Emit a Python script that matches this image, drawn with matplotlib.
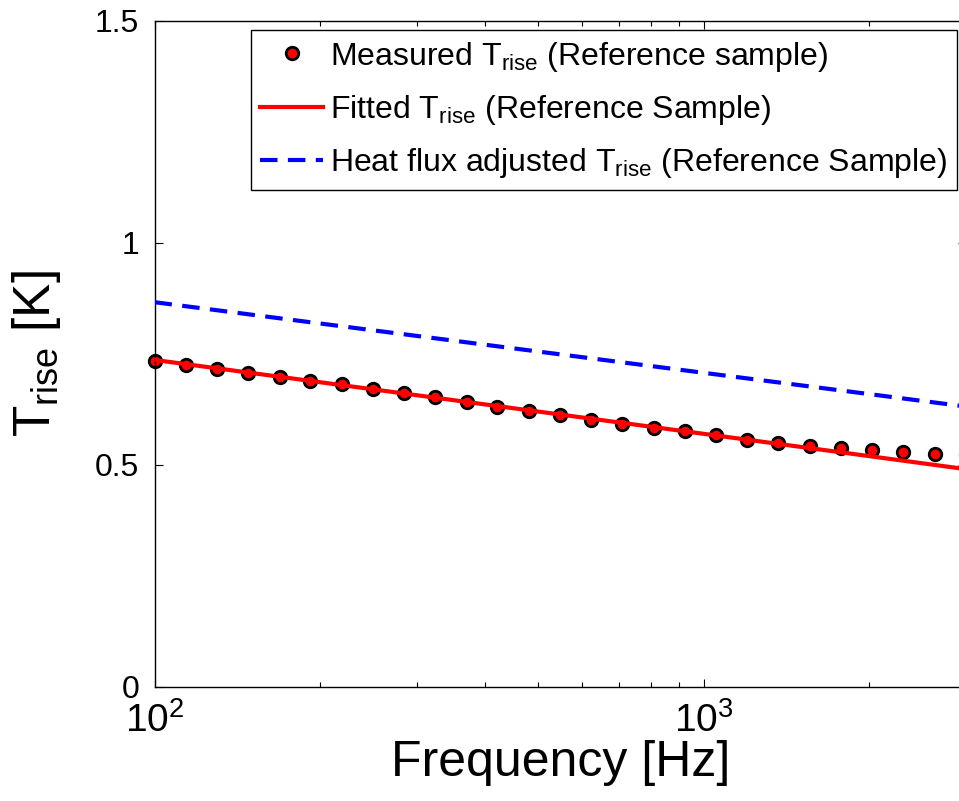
import numpy as np
import matplotlib
matplotlib.use("Agg")
import matplotlib.pyplot as plt
from matplotlib.ticker import FixedLocator, FuncFormatter, LogLocator, NullFormatter

# ---- data ----
freq_measured = [100, 114, 130, 148, 169, 192, 219, 250, 285, 324, 370, 421, 480, 547,
                 624, 711, 810, 924, 1053, 1200, 1367, 1558, 1776, 2024, 2307, 2629, 3000]
T_measured = [0.734, 0.7245, 0.7155, 0.7066, 0.6975, 0.689, 0.681, 0.6705, 0.6615, 0.6516,
              0.642, 0.631, 0.6216, 0.612, 0.601, 0.592, 0.583, 0.575, 0.566, 0.556,
              0.549, 0.543, 0.5375, 0.532, 0.5277, 0.5248, 0.5225]
freq_fit = [100, 3000]
T_fit = [0.736, 0.490]
freq_adj = [100, 3000]
T_adj = [0.866, 0.631]

x_ticks = [100, 1000]
y_ticks = [0, 0.5, 1, 1.5]
y_tick_labels = ["0", "0.5", "1", "1.5"]

labels = [r"Measured T$_{\mathregular{rise}}$ (Reference sample)",
          r"Fitted T$_{\mathregular{rise}}$ (Reference Sample)",
          r"Heat flux adjusted T$_{\mathregular{rise}}$ (Reference Sample)"]

# ---- fonts ----
plt.rcParams["font.family"] = ["Liberation Sans", "DejaVu Sans"]
plt.rcParams["mathtext.fontset"] = "custom"
plt.rcParams["mathtext.rm"] = "Liberation Sans"
plt.rcParams["mathtext.it"] = "Liberation Sans:italic"
plt.rcParams["mathtext.bf"] = "Liberation Sans:bold"

fig = plt.figure(figsize=(9.59, 8.01), dpi=100)
W, H = 959.0, 801.0
ax_left, ax_right, ax_top, ax_bottom = 154.5, 966.0, 20.7, 686.7
ax = fig.add_axes([ax_left / W, 1 - ax_bottom / H, (ax_right - ax_left) / W, (ax_bottom - ax_top) / H])

ax.plot(freq_measured, T_measured, linestyle="none", marker="o", markersize=9.0,
        markerfacecolor=(1, 0, 0), markeredgecolor="black", markeredgewidth=2.0,
        label=labels[0], zorder=2, clip_on=False)
ax.plot(freq_fit, T_fit, color=(1, 0, 0), linewidth=3.0, label=labels[1], zorder=3)
ax.plot(freq_adj, T_adj, color=(0, 0, 1), linewidth=3.0, linestyle=(0, (4.2, 2.5)),
        label=labels[2], zorder=3)

ax.set_xscale("log")
ax.set_xlim(100, 3000)
ax.set_ylim(0, 1.5)

ax.xaxis.set_major_locator(FixedLocator(x_ticks))
ax.xaxis.set_minor_locator(LogLocator(base=10, subs=np.arange(2, 10)))
ax.xaxis.set_minor_formatter(NullFormatter())
ax.xaxis.set_major_formatter(FuncFormatter(lambda v, p: r"$\mathregular{10^{%d}}$" % int(round(np.log10(v)))))
ax.set_yticks(y_ticks)
ax.set_yticklabels(y_tick_labels)

ax.tick_params(axis="both", which="both", direction="in", top=True, right=True, color="black")
ax.tick_params(axis="both", which="major", length=6, width=0.8)
ax.tick_params(axis="x", which="minor", length=3.5, width=0.8)
ax.tick_params(axis="y", which="major", labelsize=23, pad=11)
ax.tick_params(axis="x", which="major", labelsize=28, pad=11)
for sp in ax.spines.values():
    sp.set_linewidth(1.0)
    sp.set_color("black")

ax.set_xlabel("Frequency [Hz]", fontsize=36)
ax.xaxis.set_label_coords(0.5, -0.0796)
ax.set_ylabel(r"T$_{\mathregular{rise}}$ [K]", fontsize=37)
ax.yaxis.set_label_coords(-0.113, 0.5)

leg = ax.legend(loc="upper right", bbox_to_anchor=(957 / W, 1 - 30 / H),
                bbox_transform=fig.transFigure, borderaxespad=0, fontsize=23,
                frameon=True, fancybox=False, framealpha=1, edgecolor="black",
                handlelength=1.97, handletextpad=0.22, borderpad=0.3, labelspacing=0.6,
                numpoints=1)
leg.get_frame().set_linewidth(1.0)

fig.savefig("out.png", dpi=100)
